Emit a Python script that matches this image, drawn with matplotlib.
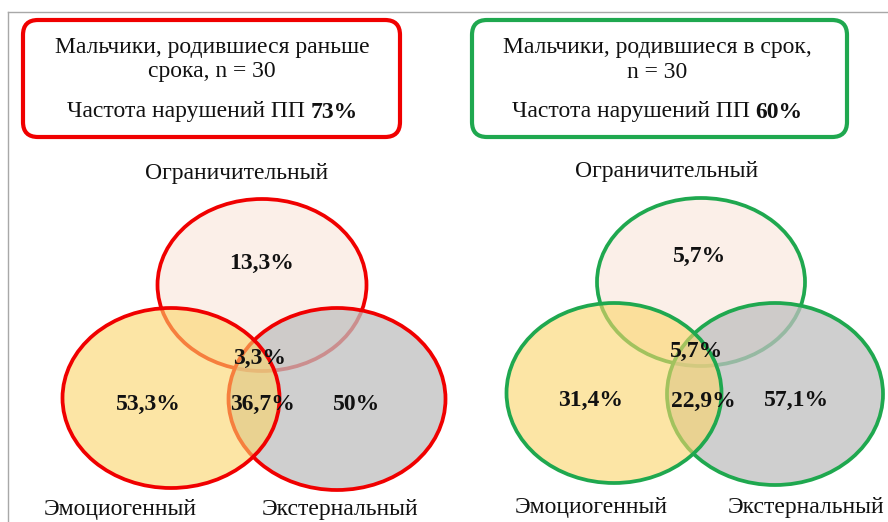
import matplotlib.pyplot as plt
from matplotlib.patches import Ellipse, FancyBboxPatch

# data
panel_titles = [["Мальчики, родившиеся раньше", "срока, n = 30"],
                ["Мальчики, родившиеся в срок,", "n = 30"]]
freq_label = "Частота нарушений ПП "
freq_values = ["73%", "60%"]
categories = ["Ограничительный", "Эмоциогенный", "Экстернальный"]
# regions: restrictive only, all three, emotional only, emotional+external, external only
preterm_values = ["13,3%", "3,3%", "53,3%", "36,7%", "50%"]
term_values = ["5,7%", "5,7%", "31,4%", "22,9%", "57,1%"]

panel_colors = ["#F00000", "#1FA84F"]

plt.rcParams['font.family'] = ['Liberation Serif', 'DejaVu Serif']
FS = 17

fig = plt.figure(figsize=(8.88, 5.22), dpi=100)
ax = fig.add_axes([0, 0, 1, 1])
ax.set_xlim(0, 888)
ax.set_ylim(522, 0)
ax.axis('off')

# thin grey frame (top and left)
ax.plot([8, 888], [12, 12], color="#A8A8A8", lw=1)
ax.plot([8, 8], [12, 522], color="#A8A8A8", lw=1)

panels = [
    dict(box=(23, 20, 377, 117), title_x=212, title_y=[47, 72], freq_y=112,
         top=(262, 285, 209, 172), left=(171, 398, 217, 180), right=(337, 399, 217, 182),
         cat_xy=[(237, 173), (120, 509), (340, 509)],
         val_xy=[(262, 263), (260, 358), (148, 404), (262, 404), (357, 404)],
         values=preterm_values),
    dict(box=(472, 20, 375, 117), title_x=657, title_y=[47, 72], freq_y=112,
         top=(701, 282, 208, 168), left=(614, 393, 215, 180), right=(775, 394, 216, 182),
         cat_xy=[(667, 172), (591, 508), (806, 508)],
         val_xy=[(700, 256), (697, 351), (591, 400), (703, 401), (796, 400)],
         values=term_values),
]

fig.canvas.draw()
renderer = fig.canvas.get_renderer()

for i, p in enumerate(panels):
    col = panel_colors[i]
    bx, by, bw, bh = p["box"]
    ax.add_patch(FancyBboxPatch((bx + 15, by + 15), bw - 30, bh - 30,
                                boxstyle="round,pad=15", facecolor="white",
                                edgecolor=col, lw=3))
    # title lines
    for line, ly in zip(panel_titles[i], p["title_y"]):
        ax.text(p["title_x"], ly, line, ha="center", va="center", fontsize=FS, color="#111111")
    # frequency line with bold value, centred as a whole
    cx = p["title_x"]
    t1 = ax.text(cx, p["freq_y"], freq_label, ha="right", va="center", fontsize=FS, color="#111111")
    t2 = ax.text(cx, p["freq_y"], freq_values[i], ha="left", va="center", fontsize=FS,
                 fontweight="bold", color="#111111")
    w1 = t1.get_window_extent(renderer).width
    w2 = t2.get_window_extent(renderer).width
    shift = (w1 - w2) / 2
    t1.set_x(cx + shift)
    t2.set_x(cx + shift)

    # ellipses: top, right, left (left on top)
    x, y, w, h = p["top"]
    ax.add_patch(Ellipse((x, y), w, h, facecolor="#FBEFE8", edgecolor=col, lw=2.7))
    x, y, w, h = p["right"]
    ax.add_patch(Ellipse((x, y), w, h, facecolor=(0.75, 0.75, 0.75, 0.75), edgecolor=col, lw=2.7))
    x, y, w, h = p["left"]
    ax.add_patch(Ellipse((x, y), w, h, facecolor=(0.985, 0.835, 0.41, 0.6), edgecolor=col, lw=2.7))

    for (lx, ly), name in zip(p["cat_xy"], categories):
        ax.text(lx, ly, name, ha="center", va="center", fontsize=FS, color="#111111")
    for (vx, vy), v in zip(p["val_xy"], p["values"]):
        ax.text(vx, vy, v, ha="center", va="center", fontsize=FS, fontweight="bold",
                color="#111111", zorder=5)

fig.savefig("out.png", dpi=100)
